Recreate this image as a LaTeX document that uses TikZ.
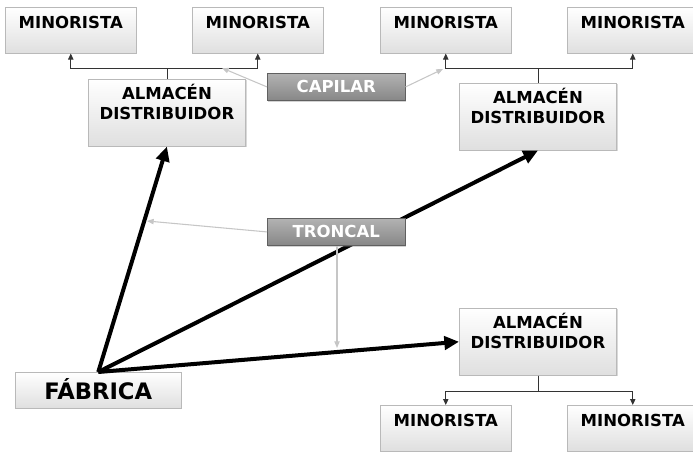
\documentclass[tikz,border=0pt]{standalone}
\usepackage{fontspec}
\setmainfont{DejaVu Sans}
\usepackage{tikz}
\usetikzlibrary{arrows.meta, shadows}

\tikzset{
	caja/.style={draw=gray!55, line width=0.4pt, top color=white, bottom color=gray!25,
		drop shadow={shadow xshift=0.9pt, shadow yshift=-0.9pt, opacity=0.3},
		font=\fontsize{12.4}{15}\selectfont\bfseries, inner sep=0pt, align=center,
		anchor=north west},
	minor/.style={caja, minimum width=98.25pt, text height=15.75pt, text depth=18.75pt},
	almacen/.style={caja, minimum width=118pt, text height=30.25pt, text depth=20pt},
	etiq/.style={draw=gray!75!black, line width=0.4pt, top color=gray!60, bottom color=gray!95!black!90,
		drop shadow={shadow xshift=0.9pt, shadow yshift=-0.9pt, opacity=0.35},
		text=white, font=\fontsize{12.4}{14}\selectfont\bfseries, inner sep=0pt,
		minimum width=103.5pt, minimum height=20.5pt, anchor=north west},
	rama/.style={draw=black!80, line width=0.6pt, -{Triangle[length=4.5pt, width=4pt]}},
	flujo/.style={draw=black, line width=3pt, -{Triangle[length=11pt, width=10pt]}},
	guia/.style={draw=gray!45, line width=0.8pt, -{Triangle[length=5pt, width=4pt]}}
}

\begin{document}
\begin{tikzpicture}[x=0.75pt, y=-0.75pt]
	
	\useasboundingbox (0,0) rectangle (693,453);
	
	% minoristas
	\node[minor] (m1) at (5,7) {MINORISTA};
	\node[minor] (m2) at (192,7) {MINORISTA};
	\node[minor] (m3) at (380,7) {MINORISTA};
	\node[minor] (m4) at (567,7) {MINORISTA};
	\node[minor] (m5) at (380,405) {MINORISTA};
	\node[minor] (m6) at (567,405) {MINORISTA};
	
	% almacenes
	\node[almacen] (a1) at (88,79) {ALMACÉN\\DISTRIBUIDOR};
	\node[almacen] (a2) at (459,83) {ALMACÉN\\DISTRIBUIDOR};
	\node[almacen] (a3) at (459,308) {ALMACÉN\\DISTRIBUIDOR};
	
	\node[caja, minimum width=124.5pt, font=\fontsize{17}{20}\selectfont\bfseries,
	text height=20.25pt, text depth=6.75pt] (fab) at (15,372) {FÁBRICA};
	
	% ramas hacia los minoristas
	\draw[rama] (a1.north) -- ++(0,-11) -| (m1.south);
	\draw[rama] (a1.north) -- ++(0,-11) -| (m2.south);
	\draw[rama] (a2.north) -- ++(0,-15) -| (m3.south);
	\draw[rama] (a2.north) -- ++(0,-15) -| (m4.south);
	\draw[rama] (a3.south) -- ++(0,16) -| (m5.north);
	\draw[rama] (a3.south) -- ++(0,16) -| (m6.north);
	
	% flujo desde la fabrica
	\draw[flujo] (fab.north) -- (a1.south);
	\draw[flujo] (fab.north) -- (a2.south);
	\draw[flujo] (fab.north) -- (a3.west);
	
	\node[etiq] (cap) at (267,73) {CAPILAR};
	\node[etiq] (tron) at (267,218) {TRONCAL};
	
	\coordinate (c1) at (222,68);
	\coordinate (c2) at (443,69);
	\coordinate (t1) at (147,221);
	\coordinate (t2) at (337,348);
	
	\draw[guia] (cap.west) -- (c1);
	\draw[guia] (cap.east) -- (c2);
	\draw[guia] (tron.west) -- (t1);
	\draw[guia] (tron.south -| t2) -- (t2);
	
\end{tikzpicture}
\end{document}
